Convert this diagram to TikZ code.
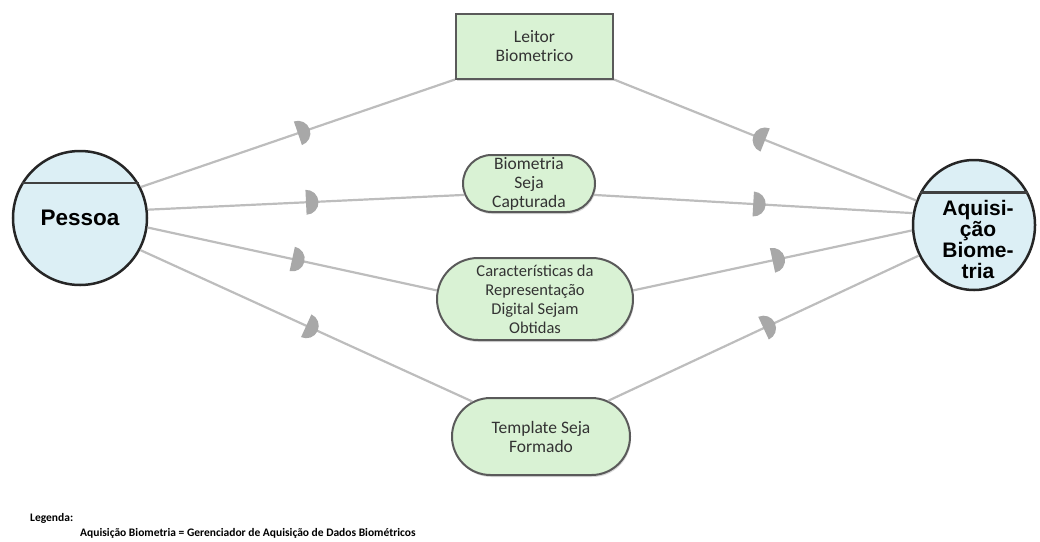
\documentclass[tikz,border=0pt]{standalone}
\usepackage{fontspec}
\setmainfont{Carlito}
\newfontfamily\headfont{Liberation Sans}
\usetikzlibrary{shapes.geometric,shapes.misc,decorations.markings,shadows}
\definecolor{cyanfill}{HTML}{DCEFF5}
\definecolor{greenfill}{HTML}{D9F2D4}
\definecolor{edgegray}{HTML}{BDBDBD}
\definecolor{headgray}{HTML}{A8A8A8}
\definecolor{rimgray}{HTML}{5A5A5A}
\begin{document}
\begin{tikzpicture}[x=1pt,y=-1pt,
  actor/.style={ellipse,draw=black!85,line width=2.5pt,fill=cyanfill,inner sep=0pt},
  boxnode/.style={rectangle,draw=rimgray,line width=2pt,fill=greenfill,align=center,
    inner sep=0pt,text=black!80,font=\fontsize{17.5}{19}\selectfont,
    drop shadow={shadow xshift=1pt,shadow yshift=-2pt,fill=black!30}},
  pill/.style={boxnode,rounded rectangle},
  link/.style={draw=edgegray,line width=2.2pt,postaction={decorate},
    decoration={markings,mark=at position 0.5 with
      {\fill[headgray] (0pt,-12.5pt) arc[start angle=-90,end angle=90,radius=12.5pt] -- cycle;}}}]
  \useasboundingbox (0,0) rectangle (1040,541);
  % actors
  \node[actor,minimum width=134pt,minimum height=134pt,
    font=\headfont\bfseries\fontsize{22.5}{24}\selectfont] (pessoa) at (80,218) {Pessoa};
  \node[actor,minimum width=122pt,minimum height=130pt] (aquis) at (974,225) {};
  \node[align=center,inner sep=0pt,font=\headfont\bfseries\fontsize{21}{21}\selectfont]
    (aqtext) at (978,239) {Aquisi-\\ção\\Biome-\\tria};
  \draw[black!75,line width=2.5pt] (pessoa.31) -- (pessoa.149);
  \draw[black!75,line width=2.5pt] (aquis.31) -- (aquis.149);
  % middle nodes
  \node[boxnode,minimum width=157pt,minimum height=65pt] (leitor) at (534.5,46) {Leitor\\Biometrico};
  \node[pill,minimum width=132pt,minimum height=57pt] (biocap) at (529,183.5) {Biometria\\Seja\\Capturada};
  \node[pill,minimum width=196pt,minimum height=82pt,font=\fontsize{16.5}{19}\selectfont] (caract) at (535,299)
    {Características da\\Representação\\Digital Sejam\\Obtidas};
  \node[pill,minimum width=178pt,minimum height=77pt] (templ) at (541,436.5) {Template Seja\\Formado};
  % connectors
  \draw[link] (pessoa.27) -- (leitor.south west);
  \draw[link] (pessoa.7) -- (biocap.190);
  \draw[link] (pessoa.-8) -- (caract.175);
  \draw[link] (pessoa.-28) -- (templ.153);
  \draw[link] (aquis.157) -- (leitor.south east);
  \draw[link] (biocap.-10) -- (aquis.169);
  \draw[link] (caract.5) -- (aquis.185);
  \draw[link] (templ.28) -- (aquis.209);
  % legend
  \node[anchor=west,inner sep=0pt,font=\bfseries\fontsize{11.5}{14}\selectfont] (legtitle) at (30,518) {Legenda:};
  \node[anchor=west,inner sep=0pt,font=\bfseries\fontsize{11.5}{14}\selectfont] (legtext) at (80,533)
    {Aquisição Biometria = Gerenciador de Aquisição de Dados Biométricos};
\end{tikzpicture}
\end{document}
